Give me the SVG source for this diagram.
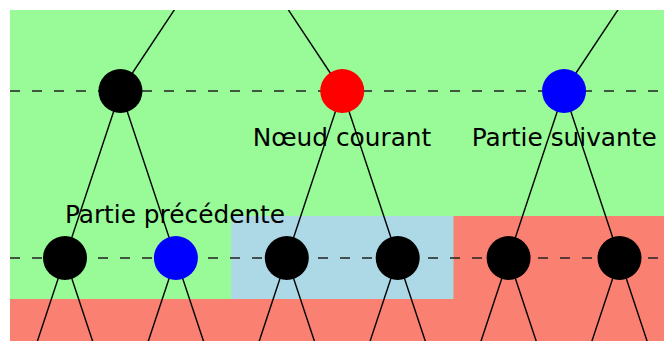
<svg xmlns="http://www.w3.org/2000/svg" width="664" height="341" viewBox="0 0 664 341">
<style>
.edge{stroke:#000;stroke-width:1.4;fill:none}
.level{stroke:#222;stroke-width:1.5;stroke-dasharray:10 12;fill:none}
.lbl{font-family:"DejaVu Sans",sans-serif;font-size:24.8px;fill:#000;text-anchor:middle}
</style>
<defs>
<clipPath id="clip"><rect x="10" y="10" width="654" height="331"/></clipPath>
</defs>
<rect x="0" y="0" width="664" height="341" fill="#fff"/>
<g clip-path="url(#clip)">
<rect x="10" y="10" width="654" height="331" fill="#98fb98"/>
<rect x="10" y="299" width="654" height="42" fill="#fa8072"/>
<rect x="453.3" y="216" width="210.7" height="83" fill="#fa8072"/>
<rect x="231.3" y="216" width="222" height="83" fill="#add8e6"/>
<g id="levels">
<line class="level" x1="10" y1="91" x2="664" y2="91"/>
<line class="level" x1="10" y1="258" x2="664" y2="258"/>
</g>
<g id="connectors">
<line class="edge" x1="231.35" y1="-76" x2="120.45" y2="91"/>
<line class="edge" x1="231.35" y1="-76" x2="342.25" y2="91"/>
<line class="edge" x1="675" y1="-76" x2="564.05" y2="91"/>
<line class="edge" x1="120.45" y1="91" x2="65" y2="258"/>
<line class="edge" x1="120.45" y1="91" x2="175.9" y2="258"/>
<line class="edge" x1="342.25" y1="91" x2="286.8" y2="258"/>
<line class="edge" x1="342.25" y1="91" x2="397.7" y2="258"/>
<line class="edge" x1="564.05" y1="91" x2="508.6" y2="258"/>
<line class="edge" x1="564.05" y1="91" x2="619.5" y2="258"/>
<line class="edge" x1="65" y1="258" x2="9.55" y2="425"/>
<line class="edge" x1="65" y1="258" x2="120.45" y2="425"/>
<line class="edge" x1="175.9" y1="258" x2="120.45" y2="425"/>
<line class="edge" x1="175.9" y1="258" x2="231.35" y2="425"/>
<line class="edge" x1="286.8" y1="258" x2="231.35" y2="425"/>
<line class="edge" x1="286.8" y1="258" x2="342.25" y2="425"/>
<line class="edge" x1="397.7" y1="258" x2="342.25" y2="425"/>
<line class="edge" x1="397.7" y1="258" x2="453.15" y2="425"/>
<line class="edge" x1="508.6" y1="258" x2="453.15" y2="425"/>
<line class="edge" x1="508.6" y1="258" x2="564.05" y2="425"/>
<line class="edge" x1="619.5" y1="258" x2="564.05" y2="425"/>
<line class="edge" x1="619.5" y1="258" x2="674.95" y2="425"/>
</g>
<g id="n-top-1"><circle cx="120.45" cy="91" r="22" fill="#000"/></g>
<g id="n-top-2"><circle cx="342.25" cy="91" r="22" fill="#f00"/><text class="lbl" x="342" y="146">Nœud courant</text></g>
<g id="n-top-3"><circle cx="564.05" cy="91" r="22" fill="#00f"/><text class="lbl" x="564.2" y="146">Partie suivante</text></g>
<g id="n-bot-1"><circle cx="65" cy="258" r="22" fill="#000"/></g>
<g id="n-bot-2"><circle cx="175.9" cy="258" r="22" fill="#00f"/><text class="lbl" x="175" y="222.5">Partie précédente</text></g>
<g id="n-bot-3"><circle cx="286.8" cy="258" r="22" fill="#000"/></g>
<g id="n-bot-4"><circle cx="397.7" cy="258" r="22" fill="#000"/></g>
<g id="n-bot-5"><circle cx="508.6" cy="258" r="22" fill="#000"/></g>
<g id="n-bot-6"><circle cx="619.5" cy="258" r="22" fill="#000"/></g>
</g>
</svg>
